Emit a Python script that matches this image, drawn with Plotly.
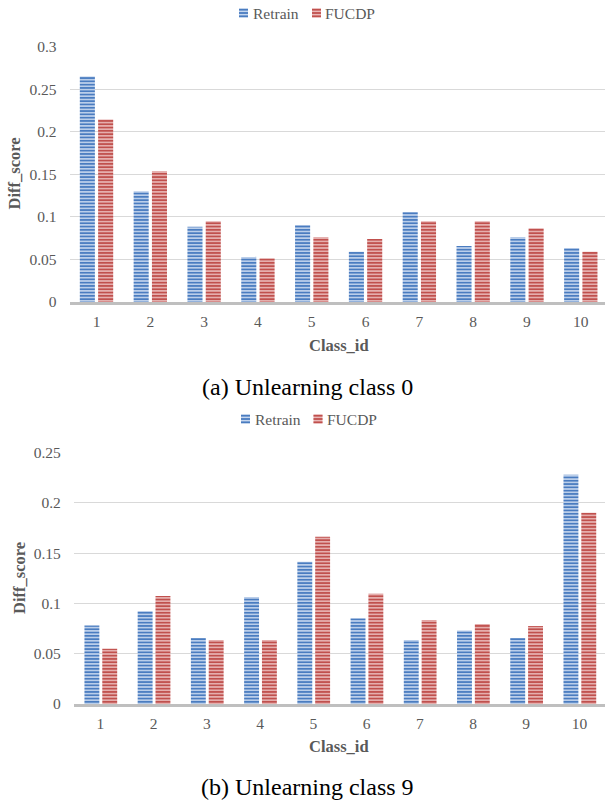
import plotly.graph_objects as go

class_ids = [1, 2, 3, 4, 5, 6, 7, 8, 9, 10]
tick_labels = ["1", "2", "3", "4", "5", "6", "7", "8", "9", "10"]

retrain_a = [0.265, 0.130, 0.0885, 0.053, 0.0905, 0.059, 0.1058, 0.0658, 0.076, 0.0635]
fucdp_a = [0.2146, 0.1535, 0.095, 0.0513, 0.076, 0.074, 0.095, 0.095, 0.0866, 0.059]

retrain_b = [0.078, 0.0925, 0.0657, 0.1064, 0.1416, 0.0852, 0.0637, 0.073, 0.0657, 0.228]
fucdp_b = [0.055, 0.1074, 0.0637, 0.0637, 0.1664, 0.1097, 0.0836, 0.0796, 0.0776, 0.1903]

series_names = ["Retrain", "FUCDP"]
captions = ["(a) Unlearning class 0", "(b) Unlearning class 9"]

W, H = 605, 802
FONT = "Liberation Serif"
GRAY = "#595959"

BLUE_FG, BLUE_BG = "#4a7cc0", "#c6d7ef"
RED_FG, RED_BG = "#c0504d", "#eab8b8"

fig = go.Figure()


def add_bars(vals, name, fg, bg, xa, ya, offset):
    fig.add_trace(go.Bar(
        x=class_ids, y=vals, name=name,
        xaxis=xa, yaxis=ya, showlegend=False,
        width=0.28, offset=offset,
        marker=dict(
            color=bg,
            line=dict(width=0),
            pattern=dict(shape="-", fgcolor=fg, bgcolor=bg, size=3.3,
                         solidity=0.55, fillmode="replace"),
        ),
        hoverinfo="skip",
    ))


add_bars(retrain_a, series_names[0], BLUE_FG, BLUE_BG, "x", "y", -0.31)
add_bars(fucdp_a, series_names[1], RED_FG, RED_BG, "x", "y", 0.03)
add_bars(retrain_b, series_names[0], BLUE_FG, BLUE_BG, "x2", "y2", -0.30)
add_bars(fucdp_b, series_names[1], RED_FG, RED_BG, "x2", "y2", 0.035)


def py(px):
    return 1 - px / H


xcommon = dict(
    tickmode="array", tickvals=class_ids, ticktext=tick_labels,
    showgrid=False, showline=True, linecolor="#bfbfbf", linewidth=3,
    zeroline=False, ticks="",
    tickfont=dict(family=FONT, size=15.5, color=GRAY),
    ticklabelstandoff=3, fixedrange=True, automargin=False,
)
ycommon = dict(
    dtick=0.05, tick0=0, showgrid=True, gridcolor="#d9d9d9", gridwidth=1,
    showline=False, zeroline=False, ticks="",
    tickfont=dict(family=FONT, size=15.5, color=GRAY),
    ticklabelstandoff=12, fixedrange=True, automargin=False,
)

fig.update_layout(
    width=W, height=H,
    margin=dict(l=0, r=0, t=0, b=0),
    paper_bgcolor="white", plot_bgcolor="white",
    barmode="overlay",
    showlegend=False,
    xaxis=dict(domain=[69.6 / W, 1], range=[0.5, 10.45], anchor="y", **xcommon),
    yaxis=dict(domain=[py(302), py(46.7)], range=[0, 0.3], anchor="x",
               tickformat="~g", **ycommon),
    xaxis2=dict(domain=[73.8 / W, 1], range=[0.5, 10.48], anchor="y2", **xcommon),
    yaxis2=dict(domain=[py(704), py(452.7)], range=[0, 0.25], anchor="x2",
                tickformat="~g", **ycommon),
)

ann = []
shapes = []

# legends (drawn as swatch + text)
legend_specs = [
    (13, [(239, 251), (312, 323)]),
    (419, [(241, 253), (313.5, 325)]),
]
for yc, items in legend_specs:
    for (sx, tx), name, fg, bg in zip(items, series_names, [BLUE_FG, RED_FG], [BLUE_BG, RED_BG]):
        shapes.append(dict(type="rect", xref="paper", yref="paper",
                           x0=sx / W, x1=(sx + 9) / W, y0=py(yc + 4.5), y1=py(yc - 4.5),
                           fillcolor=bg, line=dict(width=0)))
        for k in range(3):
            yy = yc - 3.3 + k * 3.3
            shapes.append(dict(type="line", xref="paper", yref="paper",
                               x0=sx / W, x1=(sx + 9) / W, y0=py(yy), y1=py(yy),
                               line=dict(color=fg, width=1.8)))
        ann.append(dict(text=name, x=tx / W, y=py(yc), xref="paper", yref="paper",
                        showarrow=False, xanchor="left", yanchor="middle",
                        font=dict(family=FONT, size=15.5, color=GRAY)))

# axis titles
for xpx, ypx in ((13.5, 174), (19, 578)):
    ann.append(dict(text="<b>Diff_score</b>", x=xpx / W, y=py(ypx), xref="paper", yref="paper",
                    textangle=-90, showarrow=False, font=dict(family=FONT, size=16.5, color=GRAY),
                    xanchor="center", yanchor="middle"))
for ypx in (345, 746.7):
    ann.append(dict(text="<b>Class_id</b>", x=338.6 / W, y=py(ypx), xref="paper", yref="paper",
                    showarrow=False, font=dict(family=FONT, size=16.5, color=GRAY),
                    xanchor="center", yanchor="middle"))
for cap, ypx in zip(captions, (387, 787)):
    ann.append(dict(text=cap, x=308 / W, y=py(ypx), xref="paper", yref="paper",
                    showarrow=False, font=dict(family=FONT, size=24, color="black"),
                    xanchor="center", yanchor="middle"))

fig.update_layout(annotations=ann, shapes=shapes)

fig.write_html(
    "out.html",
    config={"displayModeBar": False, "staticPlot": True},
    post_script="document.body.style.margin='0';document.body.style.overflow='hidden';",
)
